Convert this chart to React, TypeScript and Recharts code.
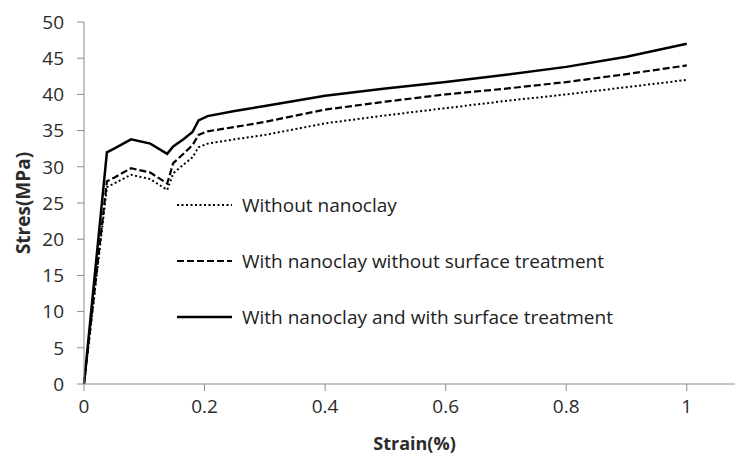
import React from "react";
import {
  LineChart,
  Line,
  XAxis,
  YAxis,
  Legend,
  Label,
} from "recharts";

const strain = [0, 0.038, 0.05, 0.078, 0.11, 0.138, 0.148, 0.165, 0.18, 0.19, 0.205, 0.25, 0.3, 0.4, 0.5, 0.6, 0.7, 0.8, 0.9, 1.0];
const withoutNanoclay = [0, 27.2, 27.7, 28.9, 28.3, 26.8, 29.1, 30.3, 31.3, 32.7, 33.2, 33.8, 34.4, 36.0, 37.1, 38.1, 39.1, 40.0, 41.0, 42.0];
const withoutTreatment = [0, 28.0, 28.5, 29.8, 29.2, 27.7, 30.5, 31.8, 33.0, 34.4, 34.9, 35.5, 36.2, 37.9, 39.0, 40.0, 40.8, 41.7, 42.8, 44.0];
const withTreatment = [0, 32.0, 32.5, 33.8, 33.2, 31.8, 32.8, 33.8, 34.8, 36.4, 37.0, 37.7, 38.4, 39.8, 40.8, 41.7, 42.7, 43.8, 45.2, 47.0];

const xTicks = [0, 0.2, 0.4, 0.6, 0.8, 1];
const yTicks = [0, 5, 10, 15, 20, 25, 30, 35, 40, 45, 50];

const seriesNames = [
  "Without nanoclay",
  "With nanoclay without surface treatment",
  "With nanoclay and with surface treatment",
];

const data = strain.map((x, i) => ({
  x,
  a: withoutNanoclay[i],
  b: withoutTreatment[i],
  c: withTreatment[i],
}));

const FONT = "'Open Sans', sans-serif";
const TEXT = "#2b2b2b";
const AXIS = "#8c8c8c";

const styles = [
  { key: "a", dash: "2 2.5", width: 2 },
  { key: "b", dash: "7 3", width: 2.2 },
  { key: "c", dash: undefined as string | undefined, width: 2.5 },
];

const LegendBox = () => (
  <div style={{ fontFamily: FONT, fontSize: 19, color: "#222" }}>
    {seriesNames.map((name, i) => (
      <div
        key={name}
        style={{ display: "flex", alignItems: "center", height: 56 }}
      >
        <svg width={57} height={10} style={{ marginRight: 8 }}>
          <line
            x1={0}
            y1={5}
            x2={55}
            y2={5}
            stroke="#000"
            strokeWidth={styles[i].width}
            strokeDasharray={styles[i].dash}
          />
        </svg>
        <span>{name}</span>
      </div>
    ))}
  </div>
);

export default function App() {
  return (
    <div style={{ position: "absolute", left: 0, top: 0, background: "#fff" }}>
      <LineChart
        width={737}
        height={458}
        data={data}
        margin={{ top: 22, right: 2, left: 40, bottom: 8 }}
      >
        <XAxis
          dataKey="x"
          type="number"
          domain={[0, 1.08]}
          ticks={xTicks}
          height={66}
          stroke={AXIS}
          tickSize={7}
          tick={{ fill: TEXT, fontSize: 19, fontFamily: FONT }}
          tickMargin={9}
          tickFormatter={(v: number) => String(v)}
        >
          <Label
            value="Strain(%)"
            position="insideBottom"
            dx={5}
            offset={0}
            style={{ fill: TEXT, fontSize: 18, fontWeight: 700, fontFamily: FONT }}
          />
        </XAxis>
        <YAxis
          type="number"
          domain={[0, 50]}
          ticks={yTicks}
          width={44}
          stroke={AXIS}
          tickSize={7}
          tick={{ fill: TEXT, fontSize: 19, fontFamily: FONT }}
          tickMargin={13}
        >
          <Label
            value="Stres(MPa)"
            angle={-90}
            position="insideLeft"
            dx={-22}
            style={{ fill: TEXT, fontSize: 19, fontWeight: 700, fontFamily: FONT, textAnchor: "middle" }}
          />
        </YAxis>
        <Legend
          content={<LegendBox />}
          layout="horizontal"
          verticalAlign="middle"
          align="center"
          wrapperStyle={{ left: 177, top: 177, width: 500 }}
        />
        {styles.map((s, i) => (
          <Line
            key={s.key}
            type="linear"
            dataKey={s.key}
            name={seriesNames[i]}
            stroke="#000"
            strokeWidth={s.width}
            strokeDasharray={s.dash}
            dot={false}
            activeDot={false}
            isAnimationActive={false}
          />
        ))}
      </LineChart>
    </div>
  );
}
